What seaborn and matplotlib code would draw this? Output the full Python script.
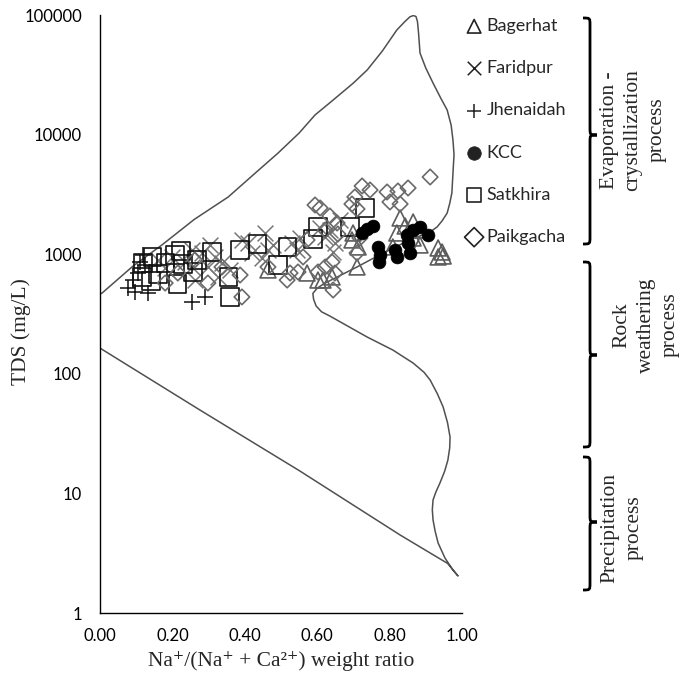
import matplotlib
matplotlib.use("Agg")
import matplotlib.pyplot as plt
from matplotlib.path import Path
from matplotlib.patches import PathPatch
from matplotlib.ticker import NullLocator
import pandas as pd
import seaborn as sns

# ---- sample data: Na/(Na+Ca) weight ratio and TDS (mg/L) ----
bagerhat_ratio = [0.464, 0.572, 0.602, 0.616, 0.641, 0.699, 0.696, 0.713, 0.710, 0.809,
                  0.820, 0.843, 0.865, 0.884, 0.865, 0.884, 0.934, 0.945, 0.948, 0.934, 0.829]
bagerhat_tds = [738, 696, 608, 608, 645, 1504, 1315, 1149, 782, 1149,
                1504, 1721, 1858, 1593, 1366, 1194, 1127, 1043, 966, 948, 2008]

faridpur_ratio = [0.160, 0.180, 0.199, 0.235, 0.254, 0.254, 0.262, 0.282, 0.298, 0.318,
                  0.326, 0.337, 0.359, 0.392, 0.409, 0.420, 0.448, 0.456, 0.464, 0.478,
                  0.530, 0.544, 0.622, 0.635, 0.649, 0.644, 0.608, 0.663, 0.552, 0.304]
faridpur_tds = [894, 767, 948, 861, 1084, 782, 608, 1023, 782, 948,
                645, 844, 738, 1315, 1241, 1023, 929, 1504, 1084, 1194,
                1241, 1084, 1392, 1593, 1241, 1043, 1656, 1932, 1366, 1194]

jhenaidah_ratio = [0.077, 0.097, 0.133, 0.119, 0.105, 0.091, 0.254, 0.290, 0.124, 0.110]
jhenaidah_tds = [521, 483, 474, 985, 697, 608, 398, 439, 812, 861]

kcc_ratio = [0.754, 0.738, 0.724, 0.768, 0.773, 0.771, 0.820, 0.856, 0.851, 0.865,
             0.884, 0.906, 0.848, 0.815]
kcc_tds = [1721, 1624, 1504, 1149, 985, 861, 948, 1023, 1241, 1593,
           1688, 1447, 1447, 1084]

satkhira_ratio = [0.119, 0.146, 0.116, 0.141, 0.160, 0.180, 0.207, 0.224, 0.229, 0.268,
                  0.215, 0.309, 0.354, 0.359, 0.387, 0.436, 0.492, 0.517, 0.588, 0.602,
                  0.691, 0.732, 0.257]
satkhira_tds = [844, 948, 645, 597, 683, 844, 985, 1064, 828, 894,
                563, 1043, 645, 439, 1084, 1217, 812, 1149, 1340, 1688,
                1688, 2434, 710]

paikgacha_ratio = [0.912, 0.851, 0.823, 0.793, 0.801, 0.829, 0.724, 0.746, 0.696, 0.710,
                   0.608, 0.594, 0.635, 0.655, 0.622, 0.657, 0.572, 0.561, 0.641, 0.622,
                   0.649, 0.644, 0.710, 0.718, 0.525, 0.517, 0.547, 0.464, 0.392, 0.298,
                   0.337, 0.262, 0.215, 0.180, 0.387, 0.602, 0.704]
paikgacha_tds = [4421, 3578, 3376, 3312, 2733, 2629, 3718, 3443, 2629, 2388,
                 2434, 2579, 2086, 1823, 1593, 1475, 1315, 948, 861, 782,
                 696, 502, 1023, 1366, 696, 608, 710, 782, 439, 574,
                 782, 894, 696, 574, 670, 710, 3009]

# ---- Gibbs boundary envelope ----
boundary_ratio = [0.000, 0.006, 0.090, 0.171, 0.260, 0.354, 0.430, 0.492, 0.550, 0.594,
                  0.644, 0.700, 0.738, 0.780, 0.820, 0.842, 0.856, 0.866, 0.873, 0.877,
                  0.880, 0.884, 0.900, 0.920, 0.942, 0.959, 0.970, 0.975, 0.978, 0.976,
                  0.972, 0.966, 0.959, 0.945, 0.931, 0.912,
                  0.856, 0.782, 0.710, 0.655, 0.620, 0.600, 0.588, 0.590, 0.597, 0.612,
                  0.635, 0.690, 0.738, 0.809, 0.865, 0.895, 0.912, 0.932, 0.948, 0.960,
                  0.967, 0.966, 0.961, 0.952, 0.939, 0.928, 0.920, 0.918, 0.920, 0.926,
                  0.934, 0.953, 0.975, 0.989, 0.960, 0.829, 0.552, 0.276, 0.000]
boundary_tds = [464, 474, 790, 1194, 1950, 3006, 4800, 7015, 10300, 14590,
                19450, 27000, 34670, 50000, 74990, 88000, 96500, 99000, 97000, 88000,
                70630, 48080, 36000, 26980, 20000, 16070, 12000, 9016, 6800, 5358,
                3251, 2650, 2208, 1900, 1687, 1535,
                1315, 1023, 782, 644, 570, 520, 470, 420, 369, 330,
                304, 245, 203, 158, 123, 103, 88.7, 68, 52.7, 39,
                29.6, 24, 19.0, 15.3, 12.2, 10.3, 8.81, 7.3, 6.0, 4.8,
                3.85, 2.88, 2.29, 2.04, 2.6, 4.49, 15.4, 49.8, 164]

x_ticks = [0.0, 0.2, 0.4, 0.6, 0.8, 1.0]
x_tick_labels = ["0.00", "0.20", "0.40", "0.60", "0.80", "1.00"]
y_ticks = [1, 10, 100, 1000, 10000, 100000]
y_tick_labels = ["1", "10", "100", "1000", "10000", "100000"]

series = [
    ("Bagerhat", bagerhat_ratio, bagerhat_tds, "^", "#5c5c5c", False, 130),
    ("Faridpur", faridpur_ratio, faridpur_tds, "x", "#777777", False, 130),
    ("Jhenaidah", jhenaidah_ratio, jhenaidah_tds, "+", "#111111", False, 140),
    ("KCC", kcc_ratio, kcc_tds, "o", "#000000", True, 85),
    ("Satkhira", satkhira_ratio, satkhira_tds, "s", "#111111", False, 155),
    ("Paikgacha", paikgacha_ratio, paikgacha_tds, "D", "#6a6a6a", False, 62),
]

sns.set_style("white")
plt.rcParams["font.family"] = ["Lato", "DejaVu Sans"]
serif = ["Liberation Serif", "DejaVu Serif"]

fig = plt.figure(figsize=(6.83, 6.95), dpi=100)
ax = fig.add_axes([100 / 683, 1 - 613 / 695, 362 / 683, 598 / 695])

ax.plot(boundary_ratio, boundary_tds, color="#505050", lw=1.1, zorder=1)

for name, xs, ys, mk, col, filled, size in series:
    df = pd.DataFrame({"ratio": xs, "tds": ys})
    if filled:
        sns.scatterplot(data=df, x="ratio", y="tds", ax=ax, marker=mk, s=size,
                        color=col, edgecolor=col, linewidth=0.5, label=name, zorder=3)
    elif mk in ("x", "+"):
        sns.scatterplot(data=df, x="ratio", y="tds", ax=ax, marker=mk, s=size,
                        color=col, linewidth=1.1, label=name, zorder=2)
    else:
        sns.scatterplot(data=df, x="ratio", y="tds", ax=ax, marker=mk, s=size,
                        color=col, facecolor="none", edgecolor=col, linewidth=1.2,
                        label=name, zorder=2)

ax.set_yscale("log")
ax.set_xlim(0, 1.0)
ax.set_ylim(1, 100000)
ax.set_xticks(x_ticks)
ax.set_xticklabels(x_tick_labels)
ax.set_yticks(y_ticks)
ax.set_yticklabels(y_tick_labels)
ax.yaxis.set_minor_locator(NullLocator())
ax.tick_params(axis="both", direction="out", length=5, width=0.9, colors="black",
               labelsize=12)
ax.tick_params(axis="x", pad=6)
ax.tick_params(axis="y", pad=8)
for side in ("top", "right"):
    ax.spines[side].set_visible(False)
for side in ("left", "bottom"):
    ax.spines[side].set_color("black")
    ax.spines[side].set_linewidth(1.0)

ax.set_xlabel("Na\u207a/(Na\u207a + Ca\u00b2\u207a) weight ratio", family=serif,
              fontsize=15.5)
ax.set_ylabel("TDS (mg/L)", family=serif, fontsize=15.5)
ax.xaxis.set_label_coords(0.5, -0.064)
ax.yaxis.set_label_coords(-0.19, 0.47)

leg = ax.legend(loc="upper left", bbox_to_anchor=(466 / 683, 1 - 18 / 695),
                bbox_transform=fig.transFigure, frameon=False, fontsize=13,
                labelspacing=1.45, handletextpad=0.25, handlelength=0.9,
                borderpad=0, borderaxespad=0)
for h in leg.legend_handles:
    h.set_sizes([95])
    h.set_edgecolor("#222222")
    if h.get_label() in ("Jhenaidah", "Faridpur", "KCC"):
        h.set_facecolor("#222222")

# ---- process brackets on the right ----
over = fig.add_axes([0, 0, 1, 1])
over.set_xlim(0, 683)
over.set_ylim(695, 0)
over.axis("off")


def brace(x0, top, mid, bot, h=7):
    verts = [(x0, top), (x0 + h, top), (x0 + h, top), (x0 + h, top + h),
             (x0 + h, mid - h),
             (x0 + h, mid), (x0 + h, mid), (x0 + 2 * h, mid),
             (x0 + h, mid), (x0 + h, mid), (x0 + h, mid + h),
             (x0 + h, bot - h),
             (x0 + h, bot), (x0 + h, bot), (x0, bot)]
    codes = [Path.MOVETO, Path.CURVE4, Path.CURVE4, Path.CURVE4,
             Path.LINETO,
             Path.CURVE4, Path.CURVE4, Path.CURVE4,
             Path.CURVE4, Path.CURVE4, Path.CURVE4,
             Path.LINETO,
             Path.CURVE4, Path.CURVE4, Path.CURVE4]
    over.add_patch(PathPatch(Path(verts, codes), fill=False, lw=2.0, color="black"))


brace(583, 18, 135, 244)
brace(583, 262, 355, 447)
brace(583, 457, 522, 590)

over.text(633, 130, "Evaporation -\ncrystallization\nprocess", rotation=90,
          ha="center", va="center", family=serif, fontsize=15.5, linespacing=1.35)
over.text(646, 325, "Rock\nweathering\nprocess", rotation=90,
          ha="center", va="center", family=serif, fontsize=15.5, linespacing=1.35)
over.text(622, 528, "Precipitation\nprocess", rotation=90,
          ha="center", va="center", family=serif, fontsize=15.5, linespacing=1.35)

fig.savefig("out.png", dpi=100, facecolor="white")
